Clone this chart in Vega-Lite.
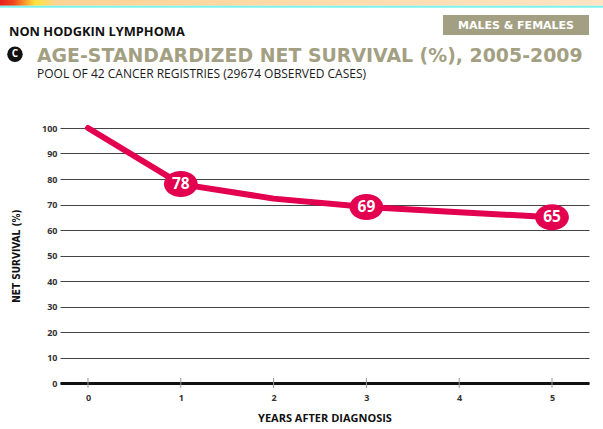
{
  "$schema": "https://vega.github.io/schema/vega-lite/v6.json",
  "width": 529,
  "height": 255,
  "autosize": {"type": "none"},
  "padding": {"left": 60, "top": 128, "right": 14, "bottom": 46},
  "background": "white",
  "config": {
    "view": {"stroke": null},
    "font": "Open Sans",
    "axisX": {
      "tickCount": 6, "format": "d",
      "grid": false, "ticks": false,
      "domainColor": "#111111", "domainWidth": 3,
      "labelFont": "Open Sans", "labelFontWeight": "bold", "labelFontSize": 9, "labelColor": "#333333", "labelPadding": 10,
      "titleFont": "Open Sans", "titleFontWeight": "bold", "titleFontSize": 11, "titleColor": "#111111", "titlePadding": 10
    },
    "axisY": {
      "tickCount": 11,
      "grid": true, "gridColor": "#444444", "gridWidth": 1,
      "domain": false, "ticks": false,
      "labelFont": "Open Sans", "labelFontWeight": "bold", "labelFontSize": 9, "labelColor": "#333333", "labelPadding": 3,
      "titleFont": "DejaVu Sans Condensed", "titleFontWeight": "bold", "titleFontSize": 10, "titleColor": "#111111", "titlePadding": 20
    }
  },
  "data": {
    "values": [
      {"year": 0, "survival": 100, "labeled": false},
      {"year": 1, "survival": 78, "labeled": true},
      {"year": 2, "survival": 72.3, "labeled": false},
      {"year": 3, "survival": 69, "labeled": true},
      {"year": 4, "survival": 67, "labeled": false},
      {"year": 5, "survival": 65, "labeled": true}
    ]
  },
  "layer": [
    {
      "data": {"values": [{}]},
      "mark": {
        "type": "rect",
        "fill": {
          "gradient": "linear", "x1": 0, "y1": 0, "x2": 1, "y2": 0,
          "stops": [
            {"offset": 0, "color": "#e2101c"},
            {"offset": 0.03, "color": "#f0481a"},
            {"offset": 0.065, "color": "#ffe23c"},
            {"offset": 0.1, "color": "#fdd394"},
            {"offset": 1, "color": "#fde4c4"}
          ]
        }
      },
      "encoding": {
        "x": {"datum": -1, "type": "quantitative", "title": "YEARS AFTER DIAGNOSIS", "scale": {"domain": [-0.3017, 5.3987], "nice": false, "zero": false}},
        "x2": {"datum": 5.6},
        "y": {"datum": 151, "type": "quantitative", "title": "NET SURVIVAL (%)", "scale": {"domain": [0, 100], "nice": false, "zero": false}},
        "y2": {"datum": 147.96}
      }
    },
    {
      "data": {"values": [{}]},
      "mark": {"type": "rect", "fill": "#7df3ee"},
      "encoding": {
        "x": {"datum": -1, "type": "quantitative", "title": "YEARS AFTER DIAGNOSIS", "scale": {"domain": [-0.3017, 5.3987], "nice": false, "zero": false}},
        "x2": {"datum": 5.6},
        "y": {"datum": 147.96, "type": "quantitative", "title": "NET SURVIVAL (%)", "scale": {"domain": [0, 100], "nice": false, "zero": false}},
        "y2": {"datum": 147.18}
      }
    },
    {
      "data": {"values": [{}]},
      "mark": {"type": "rect", "fill": "#a39f83"},
      "encoding": {
        "x": {"datum": 3.825, "type": "quantitative", "title": "YEARS AFTER DIAGNOSIS", "scale": {"domain": [-0.3017, 5.3987], "nice": false, "zero": false}},
        "x2": {"datum": 5.399},
        "y": {"datum": 144.31, "type": "quantitative", "title": "NET SURVIVAL (%)", "scale": {"domain": [0, 100], "nice": false, "zero": false}},
        "y2": {"datum": 136.47}
      }
    },
    {
      "data": {"values": [{}]},
      "mark": {"type": "text", "text": "MALES & FEMALES", "font": "DejaVu Sans", "fontWeight": "bold", "fontSize": 11, "color": "white", "align": "center", "baseline": "middle"},
      "encoding": {
        "x": {"datum": 4.612, "type": "quantitative", "title": "YEARS AFTER DIAGNOSIS", "scale": {"domain": [-0.3017, 5.3987], "nice": false, "zero": false}},
        "y": {"datum": 139.9, "type": "quantitative", "title": "NET SURVIVAL (%)", "scale": {"domain": [0, 100], "nice": false, "zero": false}}
      }
    },
    {
      "data": {"values": [{}]},
      "mark": {"type": "text", "text": "NON HODGKIN LYMPHOMA", "font": "Open Sans", "fontWeight": "bold", "fontSize": 12.8, "color": "#111111", "align": "left", "baseline": "alphabetic"},
      "encoding": {
        "x": {"datum": -0.851, "type": "quantitative", "title": "YEARS AFTER DIAGNOSIS", "scale": {"domain": [-0.3017, 5.3987], "nice": false, "zero": false}},
        "y": {"datum": 136.08, "type": "quantitative", "title": "NET SURVIVAL (%)", "scale": {"domain": [0, 100], "nice": false, "zero": false}}
      }
    },
    {
      "data": {"values": [{}]},
      "mark": {"type": "point", "shape": "circle", "filled": true, "color": "#111111", "size": 240, "opacity": 1},
      "encoding": {
        "x": {"datum": -0.787, "type": "quantitative", "title": "YEARS AFTER DIAGNOSIS", "scale": {"domain": [-0.3017, 5.3987], "nice": false, "zero": false}},
        "y": {"datum": 128.94, "type": "quantitative", "title": "NET SURVIVAL (%)", "scale": {"domain": [0, 100], "nice": false, "zero": false}}
      }
    },
    {
      "data": {"values": [{}]},
      "mark": {"type": "text", "text": "C", "font": "Open Sans", "fontWeight": "bold", "fontSize": 10, "color": "white", "align": "center", "baseline": "middle"},
      "encoding": {
        "x": {"datum": -0.787, "type": "quantitative", "title": "YEARS AFTER DIAGNOSIS", "scale": {"domain": [-0.3017, 5.3987], "nice": false, "zero": false}},
        "y": {"datum": 128.94, "type": "quantitative", "title": "NET SURVIVAL (%)", "scale": {"domain": [0, 100], "nice": false, "zero": false}}
      }
    },
    {
      "data": {"values": [{}]},
      "mark": {"type": "text", "text": "AGE-STANDARDIZED NET SURVIVAL (%), 2005-2009", "font": "DejaVu Sans", "fontWeight": "bold", "fontSize": 18.9, "color": "#a39f83", "align": "left", "baseline": "alphabetic"},
      "encoding": {
        "x": {"datum": -0.5496, "type": "quantitative", "title": "YEARS AFTER DIAGNOSIS", "scale": {"domain": [-0.3017, 5.3987], "nice": false, "zero": false}},
        "y": {"datum": 125.9, "type": "quantitative", "title": "NET SURVIVAL (%)", "scale": {"domain": [0, 100], "nice": false, "zero": false}}
      }
    },
    {
      "data": {"values": [{}]},
      "mark": {"type": "text", "text": "POOL OF 42 CANCER REGISTRIES (29674 OBSERVED CASES)", "font": "Open Sans", "fontSize": 12, "color": "#1a1a1a", "align": "left", "baseline": "alphabetic"},
      "encoding": {
        "x": {"datum": -0.5496, "type": "quantitative", "title": "YEARS AFTER DIAGNOSIS", "scale": {"domain": [-0.3017, 5.3987], "nice": false, "zero": false}},
        "y": {"datum": 119.5, "type": "quantitative", "title": "NET SURVIVAL (%)", "scale": {"domain": [0, 100], "nice": false, "zero": false}}
      }
    },
    {
      "mark": {"type": "rule", "color": "#999999", "strokeWidth": 1},
      "encoding": {
        "x": {"field": "year", "type": "quantitative", "title": "YEARS AFTER DIAGNOSIS", "scale": {"domain": [-0.3017, 5.3987], "nice": false, "zero": false}},
        "y": {"datum": 1.96, "type": "quantitative", "title": "NET SURVIVAL (%)", "scale": {"domain": [0, 100], "nice": false, "zero": false}},
        "y2": {"datum": -1.96}
      }
    },
    {
      "mark": {"type": "line", "color": "#e2004f", "strokeWidth": 6, "strokeCap": "round", "strokeJoin": "round"},
      "encoding": {
        "x": {"field": "year", "type": "quantitative", "title": "YEARS AFTER DIAGNOSIS", "scale": {"domain": [-0.3017, 5.3987], "nice": false, "zero": false}},
        "y": {"field": "survival", "type": "quantitative", "title": "NET SURVIVAL (%)", "scale": {"domain": [0, 100], "nice": false, "zero": false}}
      }
    },
    {
      "transform": [{"filter": "datum.labeled"}],
      "mark": {"type": "point", "shape": "M-1.3,0A1.3,1,0,1,0,1.3,0A1.3,1,0,1,0,-1.3,0Z", "filled": true, "color": "#e2004f", "size": 676, "opacity": 1},
      "encoding": {
        "x": {"field": "year", "type": "quantitative", "title": "YEARS AFTER DIAGNOSIS", "scale": {"domain": [-0.3017, 5.3987], "nice": false, "zero": false}},
        "y": {"field": "survival", "type": "quantitative", "title": "NET SURVIVAL (%)", "scale": {"domain": [0, 100], "nice": false, "zero": false}}
      }
    },
    {
      "transform": [{"filter": "datum.labeled"}],
      "mark": {"type": "text", "font": "Open Sans", "fontWeight": "bold", "fontSize": 15.5, "color": "white", "align": "center", "baseline": "middle"},
      "encoding": {
        "x": {"field": "year", "type": "quantitative", "title": "YEARS AFTER DIAGNOSIS", "scale": {"domain": [-0.3017, 5.3987], "nice": false, "zero": false}},
        "y": {"field": "survival", "type": "quantitative", "title": "NET SURVIVAL (%)", "scale": {"domain": [0, 100], "nice": false, "zero": false}},
        "text": {"field": "survival", "type": "quantitative", "format": "d"}
      }
    }
  ]
}
